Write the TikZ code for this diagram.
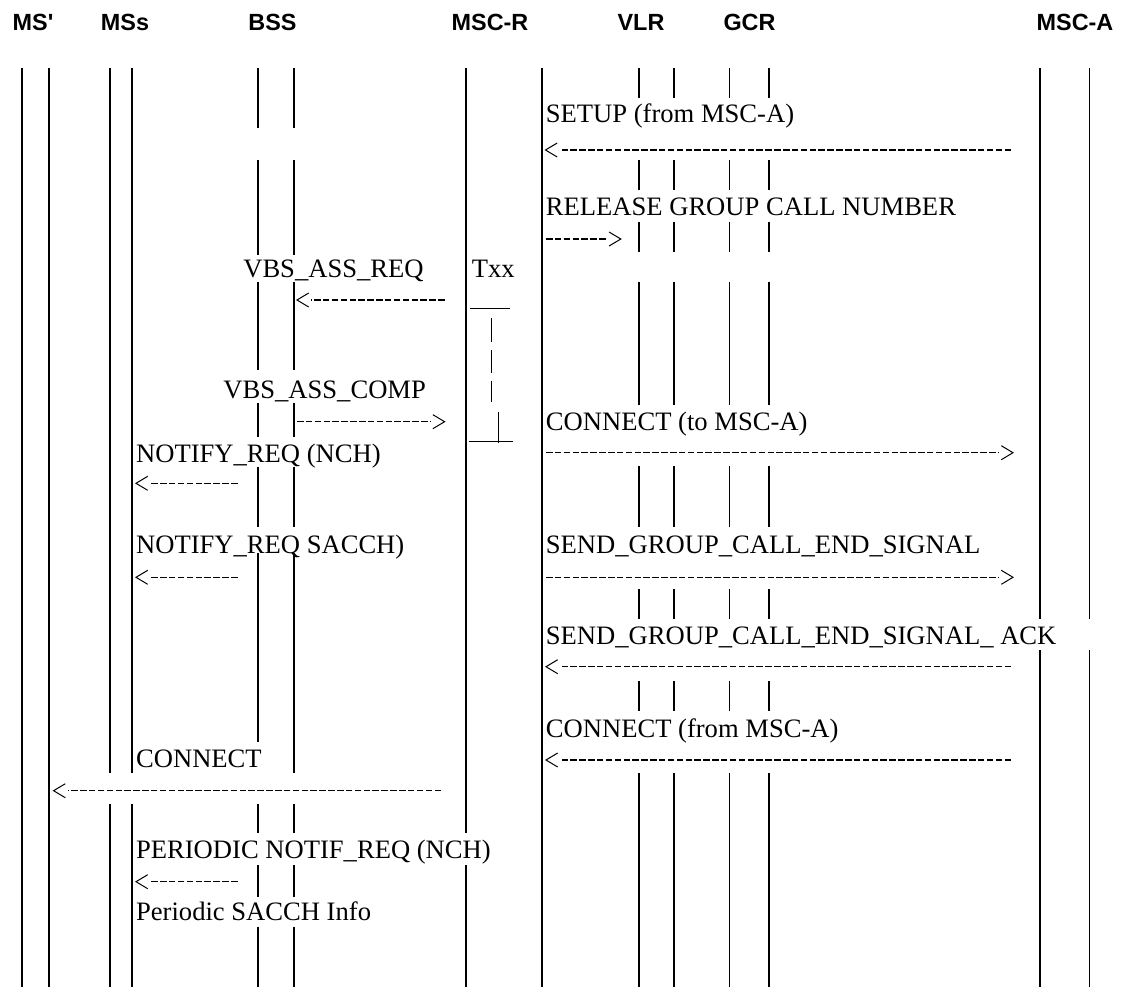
\documentclass[tikz,border=0pt]{standalone}
\usepackage{fontspec}
\newfontfamily\msgserif{Liberation Serif}
\newfontfamily\headsans{Liberation Sans}
\newcommand\msgfont{\msgserif\fontsize{13.3}{16}\selectfont}
\newcommand\headfont{\headsans\bfseries\fontsize{11.7}{14}\selectfont}
\tikzset{
  life/.style={line width=0.9pt},
  msg/.style={line width=0.6pt, dash pattern=on 3.25pt off 1.18pt},
  chev/.style={line width=0.5pt, solid},
  lt/.pic={\draw[chev] (11.7,-7) -- (0,0) -- (11.7,7);},
  rt/.pic={\draw[chev] (-11.7,-7) -- (0,0) -- (-11.7,7);},
  lbl/.style={anchor=base west, inner sep=0pt, font=\msgfont},
  head/.style={anchor=base, inner sep=0pt, font=\headfont},
  timer/.style={line width=0.5pt}
}
\begin{document}
\begin{tikzpicture}[x=0.5pt,y=-0.5pt]
\useasboundingbox (0,0) rectangle (1121,987);
% entities
\node[head] (hms1)  at (33,30)    {MS'};
\node[head] (hmss)  at (125,30)   {MSs};
\node[head] (hbss)  at (272.5,30) {BSS};
\node[head] (hmscr) at (490,30)   {MSC-R};
\node[head] (hvlr)  at (641,30)   {VLR};
\node[head] (hgcr)  at (749.5,30) {GCR};
\node[head] (hmsca) at (1075,30)  {MSC-A};
% lifelines
\draw[life] (22.1,68)--(22.1,987) (49.3,68)--(49.3,987);
\draw[life] (109.6,68)--(109.6,772.7) (109.6,804)--(109.6,987);
\draw[life] (131.8,68)--(131.8,772.7) (131.8,804)--(131.8,987);
\foreach \a/\b in {68/128.3,160/255,281.7/370,403.3/436.7,466.7/526.7,553/741.7,804/833,865/896.7,926.7/987}
  \draw[life] (257.9,\a)--(257.9,\b);
\foreach \a/\b in {68/128.3,160/255,281.7/370,403.3/436.7,466.7/526.7,553/772.7,804/833,865/896.7,926.7/987}
  \draw[life] (293.6,\a)--(293.6,\b);
\draw[life] (466,68)--(466,833) (466,865)--(466,987);
\draw[life] (541.8,68)--(541.8,987);
\foreach \x in {638.6,673.8,729.5,768.8}
  \foreach \a/\b in {68/98.3,160/190,221.7/251.7,281.7/405,466/526.7,589.3/619.3,681/711,773.3/987}
    \draw[life] (\x,\a)--(\x,\b);
\draw[life] (1040.3,68)--(1040.3,619.3) (1040.3,650)--(1040.3,987);
\draw[life] (1089.5,68)--(1089.5,619.3) (1089.5,650)--(1089.5,987);
% messages MSC-R <-> MSC-A
\node[lbl] (setup) at (545.5,122.7) {SETUP (from MSC-A)};
\coordinate (setupA) at (545.5,150); \coordinate (setupB) at (1011,150);
\draw[msg] (setupB) -- ([xshift=7pt]setupA); \pic at (setupA) {lt};
\node[lbl] (release) at (545.5,215) {RELEASE GROUP CALL NUMBER};
\coordinate (relA) at (546,239); \coordinate (relB) at (620.8,239);
\draw[msg] (relA) -- ([xshift=-7pt]relB); \pic at (relB) {rt};
\node[lbl] (connto) at (545.5,430) {CONNECT (to MSC-A)};
\coordinate (conntoA) at (546,452.7); \coordinate (conntoB) at (1013,452.7);
\draw[msg] (conntoA) -- ([xshift=-7pt]conntoB); \pic at (conntoB) {rt};
\node[lbl] (sendgce) at (545.5,553) {SEND\_GROUP\_CALL\_END\_SIGNAL};
\coordinate (sendA) at (546,577.3); \coordinate (sendB) at (1013,577.3);
\draw[msg] (sendA) -- ([xshift=-7pt]sendB); \pic at (sendB) {rt};
\node[lbl] (gceack) at (545.5,644) {SEND\_GROUP\_CALL\_END\_SIGNAL\_ ACK};
\coordinate (ackA) at (546,666.7); \coordinate (ackB) at (1011,666.7);
\draw[msg] (ackB) -- ([xshift=7pt]ackA); \pic at (ackA) {lt};
\node[lbl] (connfrom) at (545.5,737) {CONNECT (from MSC-A)};
\coordinate (connfA) at (546,760); \coordinate (connfB) at (1011,760);
\draw[msg] (connfB) -- ([xshift=7pt]connfA); \pic at (connfA) {lt};
% messages BSS <-> MSC-R, timer
\node[lbl] (vbsreq) at (242.9,277) {VBS\_ASS\_REQ};
\node[lbl] (txx) at (471.4,277) {Txx};
\coordinate (reqA) at (297,300); \coordinate (reqB) at (444.6,300);
\draw[msg] (reqB) -- ([xshift=7pt]reqA); \pic at (reqA) {lt};
\draw[timer] (470,308.3) -- (510,308.3);
\foreach \a/\b in {318/341.7,350/373.3,380.7/401.7}
  \draw[timer] (491.7,\a)--(491.7,\b);
\draw[timer] (469,441.7) -- (513,441.7) (498.3,411.7) -- (498.3,442.7);
\node[lbl] (vbscomp) at (223,398.3) {VBS\_ASS\_COMP};
\coordinate (compA) at (297,421.7); \coordinate (compB) at (444.6,421.7);
\draw[msg] (compA) -- ([xshift=-7pt]compB); \pic at (compB) {rt};
% messages MSs <- BSS
\node[lbl] (notnch) at (135.7,462) {NOTIFY\_REQ (NCH)};
\coordinate (nchA) at (136,483.3); \coordinate (nchB) at (237.5,483.3);
\draw[msg] (nchB) -- ([xshift=7pt]nchA); \pic at (nchA) {lt};
\node[lbl] (notsacch) at (135.7,553) {NOTIFY\_REQ SACCH)};
\coordinate (sacA) at (136,577.3); \coordinate (sacB) at (237.5,577.3);
\draw[msg] (sacB) -- ([xshift=7pt]sacA); \pic at (sacA) {lt};
\node[lbl] (connect) at (135.7,767) {CONNECT};
\coordinate (connA) at (53.6,790.7); \coordinate (connB) at (441,790.7);
\draw[msg] (connB) -- ([xshift=7pt]connA); \pic at (connA) {lt};
\node[lbl] (periodic) at (135.7,858) {PERIODIC NOTIF\_REQ (NCH)};
\coordinate (perA) at (136,881.7); \coordinate (perB) at (237.5,881.7);
\draw[msg] (perB) -- ([xshift=7pt]perA); \pic at (perA) {lt};
\node[lbl] (sacchinfo) at (135.7,920) {Periodic SACCH Info};
\end{tikzpicture}
\end{document}
